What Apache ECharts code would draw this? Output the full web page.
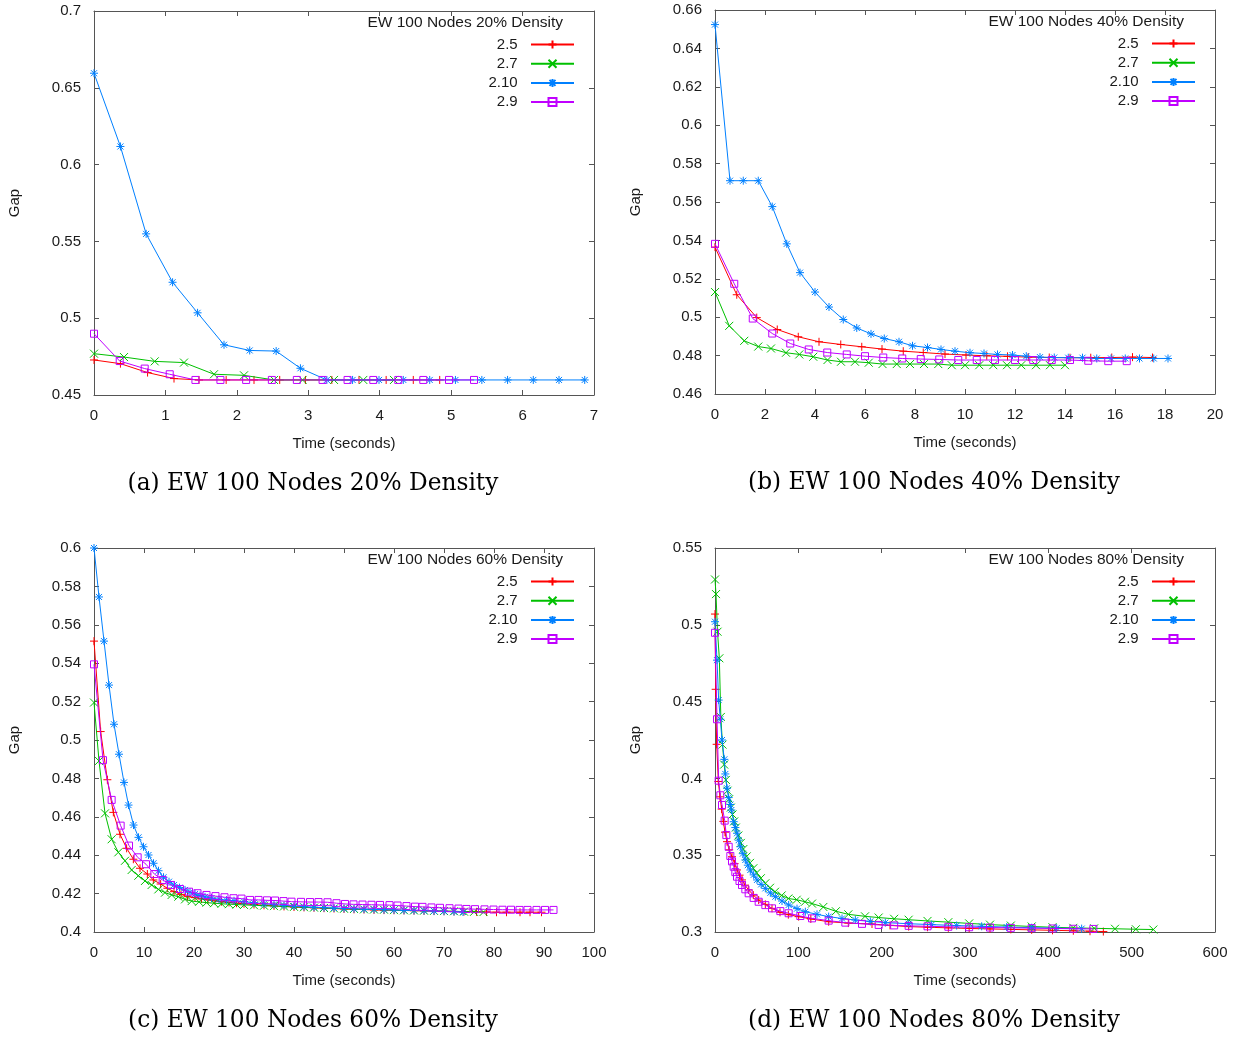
<!DOCTYPE html>
<html>
<head>
<meta charset="utf-8">
<script src="https://cdn.jsdelivr.net/npm/echarts@6/dist/echarts.min.js"></script>
<style>html,body{margin:0;padding:0;background:#fff;}#c{width:1245px;height:1039px;}</style>
</head>
<body>
<div id="c"></div>
<script>
// ---------- DATA ----------
var seriesNames = ['2.5', '2.7', '2.10', '2.9'];
var panelTitles = ['EW 100 Nodes 20% Density', 'EW 100 Nodes 40% Density', 'EW 100 Nodes 60% Density', 'EW 100 Nodes 80% Density'];
var captions = ['(a) EW 100 Nodes 20% Density', '(b) EW 100 Nodes 40% Density', '(c) EW 100 Nodes 60% Density', '(d) EW 100 Nodes 80% Density'];
var xName = 'Time (seconds)';
var yName = 'Gap';

// Panel (a) 20%
var a25_t = [0, 0.37, 0.75, 1.12, 1.47, 1.85, 2.24, 2.6, 2.96, 3.33, 3.71, 4.09, 4.47, 4.84];
var a25_g = [0.4728, 0.4704, 0.4646, 0.4607, 0.4598, 0.4598, 0.4598, 0.4598, 0.4598, 0.4598, 0.4598, 0.4598, 0.4598, 0.4598];
var a27_t = [0, 0.42, 0.85, 1.26, 1.68, 2.1, 2.52, 2.92, 3.36, 3.77, 4.2];
var a27_g = [0.4769, 0.4747, 0.4719, 0.4711, 0.4635, 0.4628, 0.4598, 0.4598, 0.4598, 0.4598, 0.4598];
var a210_t = [0, 0.37, 0.73, 1.1, 1.45, 1.82, 2.18, 2.55, 2.89, 3.26, 3.62, 3.99, 4.33, 4.7, 5.06, 5.43, 5.79, 6.15, 6.51, 6.87];
var a210_g = [0.6595, 0.6118, 0.5549, 0.5234, 0.5035, 0.4827, 0.479, 0.4786, 0.4674, 0.4598, 0.4598, 0.4598, 0.4598, 0.4598, 0.4598, 0.4598, 0.4598, 0.4598, 0.4598, 0.4598];
var a29_t = [0, 0.36, 0.71, 1.06, 1.42, 1.77, 2.13, 2.49, 2.84, 3.2, 3.55, 3.91, 4.26, 4.61, 4.97, 5.32];
var a29_g = [0.4899, 0.4721, 0.4672, 0.4635, 0.4598, 0.4598, 0.4598, 0.4598, 0.4598, 0.4598, 0.4598, 0.4598, 0.4598, 0.4598, 0.4598, 0.4598];

// Panel (b) 40%
var b25_t = [0, 0.87, 1.67, 2.49, 3.33, 4.16, 5.03, 5.87, 6.68, 7.53, 8.33, 9.2, 10.04, 10.87, 11.7, 12.53, 13.37, 14.2, 15.03, 15.87, 16.7, 17.5];
var b25_g = [0.5365, 0.5117, 0.4998, 0.4936, 0.4898, 0.4872, 0.4858, 0.4846, 0.4834, 0.4823, 0.4816, 0.4808, 0.4803, 0.4799, 0.4796, 0.4792, 0.479, 0.4789, 0.4789, 0.479, 0.4792, 0.479];
var b27_t = [0, 0.57, 1.17, 1.73, 2.24, 2.84, 3.37, 3.93, 4.5, 5.04, 5.6, 6.15, 6.7, 7.27, 7.8, 8.36, 8.93, 9.47, 10.0, 10.57, 11.13, 11.68, 12.25, 12.84, 13.4, 14.0];
var b27_g = [0.5131, 0.4955, 0.4877, 0.4847, 0.4837, 0.4815, 0.4806, 0.4794, 0.4777, 0.4768, 0.4768, 0.4763, 0.4756, 0.4756, 0.4756, 0.4756, 0.4756, 0.475, 0.475, 0.475, 0.475, 0.475, 0.475, 0.475, 0.475, 0.475];
var b210_t = [0, 0.6, 1.13, 1.73, 2.29, 2.87, 3.4, 4.0, 4.56, 5.13, 5.67, 6.24, 6.77, 7.36, 7.9, 8.5, 9.04, 9.6, 10.2, 10.76, 11.3, 11.9, 12.45, 13.0, 13.57, 14.13, 14.7, 15.27, 15.84, 16.41, 16.98, 17.55, 18.12];
var b210_g = [0.6524, 0.5711, 0.5711, 0.5711, 0.5576, 0.5382, 0.5232, 0.5131, 0.5053, 0.4988, 0.4944, 0.4913, 0.4889, 0.4872, 0.4851, 0.4842, 0.4832, 0.4823, 0.4815, 0.4811, 0.4806, 0.4803, 0.4797, 0.4792, 0.479, 0.4789, 0.4789, 0.4785, 0.4785, 0.4785, 0.4785, 0.4785, 0.4785];
var b29_t = [0, 0.77, 1.51, 2.29, 3.01, 3.75, 4.49, 5.27, 6.0, 6.73, 7.49, 8.23, 8.97, 9.73, 10.47, 11.2, 12.0, 12.73, 13.47, 14.2, 14.93, 15.73, 16.47];
var b29_g = [0.5382, 0.5174, 0.4993, 0.4915, 0.4863, 0.4832, 0.4816, 0.4806, 0.4797, 0.479, 0.4785, 0.4782, 0.478, 0.4777, 0.4777, 0.4777, 0.4777, 0.4777, 0.4777, 0.4777, 0.4773, 0.4771, 0.4771];

// Panel (c) 60%
var c25_t = [0, 1.33, 2.67, 3.87, 5.2, 6.53, 7.87, 9.2, 10.67, 11.87, 13.33, 14.67, 16.0, 17.4, 18.7, 20.2, 21.5, 22.8, 24.2, 25.5, 27, 28.5, 30, 32, 34, 36, 38, 40, 42, 44, 46, 48, 50, 52, 54, 56, 58, 60, 62, 64, 66, 68, 70, 72, 74, 76.5, 78.5, 80.5, 82.5, 85.2, 87.2, 89.5];
var c25_g = [0.5515, 0.5044, 0.4793, 0.4623, 0.4509, 0.4436, 0.4379, 0.4332, 0.4302, 0.4271, 0.425, 0.4228, 0.421, 0.4196, 0.4184, 0.4179, 0.4172, 0.4167, 0.4162, 0.4158, 0.4154, 0.415, 0.4147, 0.4143, 0.4139, 0.4136, 0.4133, 0.413, 0.4128, 0.4126, 0.4124, 0.4122, 0.412, 0.4118, 0.4117, 0.4115, 0.4114, 0.4113, 0.4112, 0.4111, 0.411, 0.4109, 0.4108, 0.4107, 0.4106, 0.4105, 0.4104, 0.4103, 0.4103, 0.4103, 0.4103, 0.4103];
var c27_t = [0, 1.0, 2.2, 3.53, 4.87, 6.2, 7.53, 8.87, 10.2, 11.53, 12.87, 14.2, 15.53, 16.87, 18.2, 19.53, 21, 22.5, 24, 25.5, 27, 28.5, 30, 32, 34, 36, 38, 40, 42, 44, 46, 48, 50, 52, 54, 56, 58, 60, 62, 64, 66, 68, 70, 72, 74, 76, 77.9];
var c27_g = [0.5195, 0.4891, 0.4618, 0.4483, 0.4415, 0.4371, 0.4323, 0.4293, 0.4266, 0.4245, 0.4222, 0.4205, 0.4193, 0.4184, 0.417, 0.4161, 0.4157, 0.4153, 0.415, 0.4147, 0.4145, 0.4143, 0.4141, 0.4139, 0.4137, 0.4135, 0.4133, 0.4131, 0.4129, 0.4127, 0.4125, 0.4123, 0.4121, 0.412, 0.4118, 0.4117, 0.4116, 0.4114, 0.4113, 0.4112, 0.4111, 0.411, 0.4109, 0.4108, 0.4106, 0.4105, 0.4104];
var c210_t = [0, 1, 2, 3, 4, 5, 6, 6.9, 7.9, 8.9, 9.9, 10.9, 11.9, 12.9, 13.9, 15, 16, 17.1, 18.2, 19.2, 20.2, 21.2, 22.2, 23.5, 25, 26.5, 28, 30, 32, 34, 36, 38, 40, 42, 44, 46, 48, 50, 52, 54, 56, 58, 60, 62, 64, 66, 68, 70, 72, 73.8];
var c210_g = [0.6, 0.5745, 0.5515, 0.5286, 0.5082, 0.4926, 0.4779, 0.4661, 0.4557, 0.4493, 0.4444, 0.4401, 0.4358, 0.4319, 0.4285, 0.4262, 0.4245, 0.4231, 0.4219, 0.4207, 0.4198, 0.419, 0.4183, 0.4177, 0.417, 0.4166, 0.4163, 0.4158, 0.4152, 0.4147, 0.4143, 0.4139, 0.4135, 0.4132, 0.4129, 0.4127, 0.4125, 0.4123, 0.4121, 0.4119, 0.4118, 0.4116, 0.4115, 0.4113, 0.4112, 0.4111, 0.4109, 0.4108, 0.4106, 0.4104];
var c29_t = [0, 1.8, 3.53, 5.33, 7.0, 8.73, 10.4, 12.07, 13.73, 15.4, 17.2, 19.0, 20.7, 22.5, 24.3, 26.1, 27.9, 29.5, 31.2, 32.9, 34.6, 36.2, 37.9, 39.5, 41.4, 43.2, 44.9, 46.7, 48.5, 50.2, 51.9, 53.7, 55.5, 57.2, 59.1, 60.7, 62.5, 64.2, 65.7, 67.5, 69.2, 71.1, 72.9, 74.5, 76.2, 78.1, 79.9, 81.7, 83.4, 85.1, 86.7, 88.5, 90.2, 91.9];
var c29_g = [0.5394, 0.4895, 0.4688, 0.4554, 0.445, 0.4389, 0.4353, 0.4302, 0.4271, 0.4245, 0.4224, 0.421, 0.4202, 0.4193, 0.4187, 0.4181, 0.4176, 0.4174, 0.4167, 0.4167, 0.4165, 0.4164, 0.4161, 0.4158, 0.4157, 0.4156, 0.4156, 0.4155, 0.415, 0.4146, 0.4144, 0.4143, 0.4142, 0.4141, 0.414, 0.4138, 0.4135, 0.4132, 0.4131, 0.4128, 0.4126, 0.4124, 0.4122, 0.412, 0.4119, 0.4118, 0.4117, 0.4116, 0.4116, 0.4115, 0.4115, 0.4115, 0.4115, 0.4115];

// Panel (d) 80%
var d25_t = [0, 0.8, 2, 4, 6, 8, 10, 12, 14.4, 17, 20.4, 23.5, 26.4, 29.5, 32.4, 36, 40.4, 46, 52.4, 60.4, 68.4, 78, 88, 100.4, 115, 136.4, 160, 188.4, 210, 232.4, 255, 280, 305, 330, 355, 380, 405, 430, 450, 466];
var d25_g = [0.507, 0.458, 0.4222, 0.398, 0.388, 0.38, 0.372, 0.365, 0.3588, 0.3535, 0.349, 0.3445, 0.3404, 0.337, 0.3339, 0.3305, 0.3274, 0.324, 0.3208, 0.318, 0.3154, 0.3128, 0.3113, 0.31, 0.3085, 0.3067, 0.3058, 0.3052, 0.3043, 0.3035, 0.3031, 0.3027, 0.3023, 0.302, 0.3017, 0.3014, 0.3011, 0.3008, 0.3005, 0.3003];
var d27_t = [0, 1.2, 3, 5.2, 7, 9, 11, 13, 15, 17, 19, 21, 23, 25, 28, 31, 34, 38, 42, 46, 50, 55, 60.4, 66, 72, 80, 88, 98, 108, 116.4, 130, 145, 160, 180, 196.4, 215, 232.4, 255, 280, 305, 330, 355, 380, 405, 430, 455, 480, 505, 526];
var d27_g = [0.5295, 0.52, 0.4955, 0.4782, 0.44, 0.422, 0.409, 0.399, 0.392, 0.3865, 0.381, 0.3765, 0.372, 0.368, 0.3628, 0.358, 0.354, 0.3492, 0.345, 0.3415, 0.3385, 0.335, 0.3317, 0.3288, 0.3262, 0.3238, 0.3218, 0.321, 0.3197, 0.3185, 0.3163, 0.3135, 0.3115, 0.3102, 0.3094, 0.3086, 0.308, 0.3072, 0.3064, 0.3056, 0.3048, 0.3042, 0.3036, 0.3031, 0.3027, 0.3024, 0.3021, 0.3018, 0.3016];
var d210_t = [0, 2.4, 4.4, 6.4, 8.4, 11.2, 12.4, 14.4, 16.4, 18.4, 19.6, 22.4, 24.4, 26.4, 28.4, 30.4, 33.4, 36.4, 39.4, 42.4, 46.4, 50.4, 55.4, 60.4, 66.4, 72.4, 80.4, 88.4, 98.4, 108.4, 122.4, 136.4, 152.4, 168.4, 186.4, 204.4, 232.4, 260, 290, 320, 350, 380, 410, 440];
var d210_g = [0.502, 0.477, 0.451, 0.4385, 0.425, 0.4124, 0.4029, 0.3936, 0.3875, 0.383, 0.3794, 0.3718, 0.368, 0.3643, 0.3598, 0.3555, 0.351, 0.3469, 0.3435, 0.3404, 0.3372, 0.3339, 0.331, 0.3284, 0.3255, 0.323, 0.3202, 0.3176, 0.3152, 0.3132, 0.3115, 0.31, 0.3088, 0.3078, 0.3069, 0.3061, 0.3054, 0.3048, 0.3042, 0.3037, 0.3032, 0.3028, 0.3025, 0.3022];
var d29_t = [0, 2.4, 4.4, 6.4, 8.4, 11.6, 13.6, 16.4, 18.4, 20.4, 22.4, 24.4, 26.4, 29.4, 32.4, 36.4, 40.4, 46.4, 52.4, 60.4, 68.4, 78.4, 88.4, 102.4, 116.4, 136.4, 156.4, 176.4, 196.4, 215, 232.4, 255, 280, 305, 330, 355, 380, 405, 430, 454];
var d29_g = [0.4948, 0.4385, 0.3985, 0.389, 0.3827, 0.3725, 0.3631, 0.3555, 0.3495, 0.346, 0.3425, 0.339, 0.336, 0.3332, 0.3306, 0.3278, 0.3252, 0.3222, 0.3197, 0.3175, 0.3154, 0.3136, 0.3122, 0.3104, 0.3089, 0.3074, 0.3061, 0.3053, 0.3046, 0.3043, 0.304, 0.3037, 0.3034, 0.3031, 0.3029, 0.3027, 0.3025, 0.3023, 0.3021, 0.302];

// ---------- LAYOUT / STYLE ----------
var panelData = [
  [[a25_t, a25_g], [a27_t, a27_g], [a210_t, a210_g], [a29_t, a29_g]],
  [[b25_t, b25_g], [b27_t, b27_g], [b210_t, b210_g], [b29_t, b29_g]],
  [[c25_t, c25_g], [c27_t, c27_g], [c210_t, c210_g], [c29_t, c29_g]],
  [[d25_t, d25_g], [d27_t, d27_g], [d210_t, d210_g], [d29_t, d29_g]]
];
var axesCfg = [
  {xmax: 7, xint: 1, ymin: 0.45, ymax: 0.7, yint: 0.05},
  {xmax: 20, xint: 2, ymin: 0.46, ymax: 0.66, yint: 0.02},
  {xmax: 100, xint: 10, ymin: 0.4, ymax: 0.6, yint: 0.02},
  {xmax: 600, xint: 100, ymin: 0.3, ymax: 0.55, yint: 0.05}
];
var grids = [
  {left: 94, top: 11, width: 500, height: 384},
  {left: 715, top: 10, width: 500, height: 384},
  {left: 94, top: 548, width: 500, height: 384},
  {left: 715, top: 548, width: 500, height: 384}
];
var colors = ['#ff0000', '#00c000', '#0080ff', '#c000ff'];
var symbols = [
  'path://M0,4L8,4M4,0L4,8',
  'path://M0,0L8,8M8,0L0,8',
  'path://M0,4L8,4M4,0L4,8M1,1L7,7M7,1L1,7',
  'path://M0,0L8,0L8,8L0,8Z'
];
var symSizes = [8, 8, 8, 7];
var SANS = 'Liberation Sans, Arial, sans-serif';
var SERIF = 'DejaVu Serif, serif';
var TXT = '#1a1a1a';
var FRAME = '#555555';

function zip(t, g) { return t.map(function (x, i) { return [x, g[i]]; }); }

var option = {
  animation: false,
  backgroundColor: '#ffffff',
  grid: grids.map(function (g) { return Object.assign({containLabel: false, show: false}, g); }),
  xAxis: [], yAxis: [], series: [], legend: [], title: []
};

for (var p = 0; p < 4; p++) {
  var c = axesCfg[p];
  var g = grids[p];
  var axLine = {show: true, onZero: false, lineStyle: {color: FRAME, width: 1}};
  var tick = {show: true, inside: true, length: 5, lineStyle: {color: FRAME, width: 1}};
  option.xAxis.push({
    type: 'value', gridIndex: p, position: 'bottom', min: 0, max: c.xmax, interval: c.xint,
    axisLine: axLine, axisTick: tick, splitLine: {show: false},
    axisLabel: {color: TXT, fontFamily: SANS, fontSize: 15, margin: 13},
    name: xName, nameLocation: 'middle', nameGap: 41,
    nameTextStyle: {color: TXT, fontFamily: SANS, fontSize: 15}
  });
  option.xAxis.push({
    type: 'value', gridIndex: p, position: 'top', min: 0, max: c.xmax, interval: c.xint,
    axisLine: axLine, axisTick: tick, splitLine: {show: false}, axisLabel: {show: false}
  });
  option.yAxis.push({
    type: 'value', gridIndex: p, position: 'left', min: c.ymin, max: c.ymax, interval: c.yint,
    axisLine: axLine, axisTick: tick, splitLine: {show: false},
    axisLabel: {color: TXT, fontFamily: SANS, fontSize: 15, margin: 13},
    name: yName, nameLocation: 'middle', nameGap: 72, nameRotate: 90,
    nameTextStyle: {color: TXT, fontFamily: SANS, fontSize: 15}
  });
  option.yAxis.push({
    type: 'value', gridIndex: p, position: 'right', min: c.ymin, max: c.ymax, interval: c.yint,
    axisLine: axLine, axisTick: tick, splitLine: {show: false}, axisLabel: {show: false}
  });
  for (var s = 0; s < 4; s++) {
    var col = colors[s];
    option.series.push({
      name: seriesNames[s], type: 'line', xAxisIndex: p * 2, yAxisIndex: p * 2,
      data: zip(panelData[p][s][0], panelData[p][s][1]),
      symbol: symbols[s], symbolSize: symSizes[s], showSymbol: true, showAllSymbol: true,
      lineStyle: {color: col, width: 1},
      itemStyle: {color: s === 3 ? 'rgba(0,0,0,0)' : col, borderColor: col, borderWidth: 1},
      emphasis: {disabled: true}, silent: true, clip: true, z: 2 + s
    });
  }
  var rightEdge = g.left + g.width - 19;
  option.legend.push({
    data: seriesNames, orient: 'vertical', align: 'right',
    right: 1245 - rightEdge, top: g.top + 25, padding: 0,
    itemWidth: 43, itemHeight: 10, itemGap: 2.2,
    formatter: '{name}  ',
    textStyle: {color: TXT, fontFamily: SANS, fontSize: 15, lineHeight: 17},
    selectedMode: false
  });
  option.title.push({
    text: panelTitles[p], right: 1245 - (g.left + g.width - 31), top: g.top + 4, padding: 0,
    textStyle: {color: TXT, fontFamily: SANS, fontSize: 15.5, fontWeight: 'normal'}
  });
  option.title.push({
    text: captions[p], left: g.left + 219, top: g.top + 461, padding: 0, textAlign: 'center',
    textStyle: {color: '#000', fontFamily: SERIF, fontSize: 23.3, fontWeight: 'normal'}
  });
}

var chart = echarts.init(document.getElementById('c'), null, {renderer: 'canvas'});
chart.setOption(option);
</script>
</body>
</html>
